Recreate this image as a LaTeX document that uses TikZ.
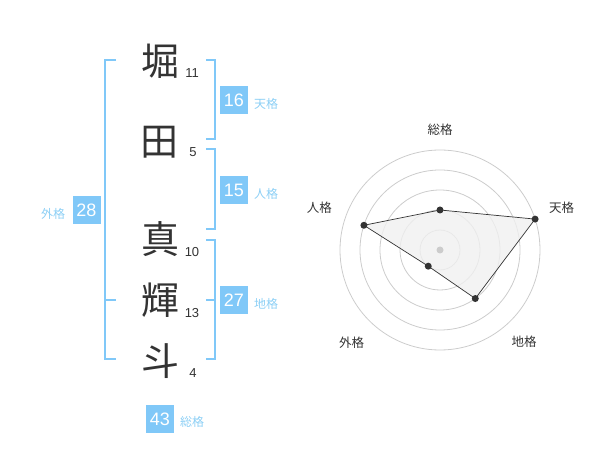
\documentclass[tikz,border=0pt]{standalone}
\usepackage{fontspec}
\setmainfont{Liberation Sans}
\newfontfamily\cjk{Noto Sans CJK JP}
\definecolor{bl}{HTML}{80C8F8}
\definecolor{bltxt}{HTML}{8CCFF5}
\definecolor{ink}{HTML}{333333}
\definecolor{ring}{HTML}{CCCCCC}
\definecolor{polyfill}{HTML}{F0F0F0}
\begin{document}
\begin{tikzpicture}[x=1pt,y=-1pt,
  bigch/.style={inner sep=0pt,text=ink,font=\cjk\fontsize{38}{38}\selectfont},
  strk/.style={inner sep=0pt,text=ink,font=\fontsize{13}{13}\selectfont},
  valbox/.style={fill=bl,text=white,minimum size=28pt,inner sep=0pt,font=\fontsize{18}{18}\selectfont},
  kaku/.style={inner sep=0pt,text=bltxt,font=\cjk\fontsize{12}{12}\selectfont},
  brk/.style={draw=bl,line width=2pt},
  rlab/.style={inner sep=0pt,text=ink,font=\cjk\fontsize{12.5}{12.5}\selectfont},
  dot/.style={circle,fill=ink,inner sep=0pt,minimum size=7pt}]
\useasboundingbox (0,0) rectangle (600,470);
% characters
\node[bigch] (c1) at (160,61) {堀};
\node[bigch] (c2) at (159,142) {田};
\node[bigch] (c3) at (160,239.5) {真};
\node[bigch] (c4) at (160,300) {輝};
\node[bigch] (c5) at (160,361) {斗};
\node[strk] (s1) at (192,73) {11};
\node[strk] (s2) at (193,152) {5};
\node[strk] (s3) at (192,252) {10};
\node[strk] (s4) at (192,313) {13};
\node[strk] (s5) at (193,373) {4};
% brackets
\draw[brk] (116,60) -- (105,60) -- (105,359.3) -- (116,359.3);
\draw[brk] (105,300) -- (116,300);
\draw[brk] (206,60) -- (215,60) -- (215,139) -- (206,139);
\draw[brk] (206,149.3) -- (215,149.3) -- (215,229.3) -- (206,229.3);
\draw[brk] (206,240) -- (215,240) -- (215,359.3) -- (206,359.3);
\draw[brk] (215,300) -- (206,300);
% value boxes
\node[valbox] (ten) at (234,100.5) {16};
\node[kaku] (tenl) at (266,104) {天格};
\node[valbox] (jin) at (234,190) {15};
\node[kaku] (jinl) at (266,194) {人格};
\node[valbox] (chi) at (234,300) {27};
\node[kaku] (chil) at (266,304) {地格};
\node[valbox] (gai) at (86.5,210) {28};
\node[kaku] (gail) at (53,214) {外格};
\node[valbox] (sou) at (160,419) {43};
\node[kaku] (soul) at (192,422) {総格};
% radar
\begin{scope}[shift={(440,250)},y=1pt]
  \foreach \r in {20,40,60,80,100} \draw[ring,line width=0.8pt] (0,0) circle (\r);
  \coordinate (ps) at (90:40);
  \coordinate (pt) at (18:100);
  \coordinate (pc) at (-54:60);
  \coordinate (pg) at (-126:20);
  \coordinate (pj) at (162:80);
  \fill[polyfill,opacity=0.8] (ps) -- (pt) -- (pc) -- (pg) -- (pj) -- cycle;
  \draw[ink,line width=0.7pt] (ps) -- (pt) -- (pc) -- (pg) -- (pj) -- cycle;
  \fill[ring] (0,0) circle (3.5);
  \foreach \p in {ps,pt,pc,pg,pj} \node[dot] at (\p) {};
\end{scope}
\node[rlab] (rs) at (440,130) {総格};
\node[rlab] (rt) at (561.7,208) {天格};
\node[rlab] (rc) at (524,341.7) {地格};
\node[rlab] (rg) at (351.7,342.7) {外格};
\node[rlab] (rj) at (319.3,208) {人格};
\end{tikzpicture}
\end{document}
